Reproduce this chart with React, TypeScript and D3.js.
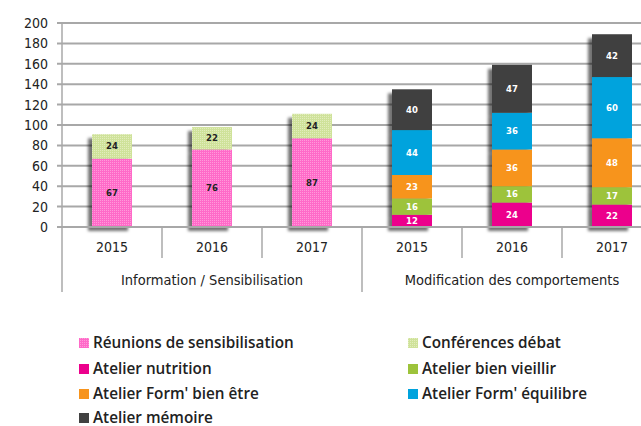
import React from "react";
import * as d3 from "d3";

const groups = ["Information / Sensibilisation", "Modification des comportements"];
const years = ["2015", "2016", "2017"];
const categories = [
  "Info-2015", "Info-2016", "Info-2017",
  "Modif-2015", "Modif-2016", "Modif-2017",
];
const seriesNames = [
  "Réunions de sensibilisation",
  "Conférences débat",
  "Atelier nutrition",
  "Atelier bien vieillir",
  "Atelier Form' bien être",
  "Atelier Form' équilibre",
  "Atelier mémoire",
];
const reunions = [67, 76, 87, 0, 0, 0];
const conferences = [24, 22, 24, 0, 0, 0];
const nutrition = [0, 0, 0, 12, 24, 22];
const bienVieillir = [0, 0, 0, 16, 16, 17];
const bienEtre = [0, 0, 0, 23, 36, 48];
const equilibre = [0, 0, 0, 44, 36, 60];
const memoire = [0, 0, 0, 40, 47, 42];
const yTicks = [0, 20, 40, 60, 80, 100, 120, 140, 160, 180, 200];

const seriesValues = [reunions, conferences, nutrition, bienVieillir, bienEtre, equilibre, memoire];
const colors = ["url(#patPink)", "url(#patGreen)", "#EC008C", "#9DC33B", "#F7941D", "#00A3DD", "#414141"];
const labelColors = ["#222", "#222", "#fff", "#fff", "#fff", "#fff", "#fff"];

const W = 641, H = 426;
const axisFont = "'DejaVu Sans Condensed', 'DejaVu Sans', sans-serif";

export default function App() {
  const y = d3.scaleLinear().domain([0, 200]).range([227, 23]);
  const x = d3.scaleBand<string>().domain(categories).range([62, 662]).paddingInner(0.6).paddingOuter(0.3);
  const step = x.step();

  const table = categories.map((c, i) => {
    const row: any = { cat: c };
    seriesNames.forEach((s, j) => (row[s] = seriesValues[j][i]));
    return row;
  });
  const stack = d3.stack<any>().keys(seriesNames)(table);

  const boundary = (i: number) => (x(categories[i]) as number) - step * 0.3;

  const legendRows = [
    [0, 1],
    [2, 3],
    [4, 5],
    [6],
  ];
  const legendY = [343, 369, 394, 418];

  return (
    <svg width={W} height={H} style={{ position: "absolute", left: 0, top: 0, background: "#fff" }}>
      <defs>
        <pattern id="patPink" width="2" height="2" patternUnits="userSpaceOnUse">
          <rect width="2" height="2" fill="#FF6AC8" />
          <rect width="1" height="1" fill="#FF9ADA" />
        </pattern>
        <pattern id="patGreen" width="2" height="2" patternUnits="userSpaceOnUse">
          <rect width="2" height="2" fill="#CFE29A" />
          <rect width="1" height="1" fill="#E2EDBD" />
        </pattern>
        <filter id="shadow" x="-30%" y="-30%" width="160%" height="160%">
          <feDropShadow dx="-4" dy="4" stdDeviation="1.5" floodColor="#000" floodOpacity="0.55" />
        </filter>
      </defs>

      {/* gridlines */}
      {yTicks.map((t) => (
        <g key={t}>
          <line x1={57} x2={W} y1={y(t)} y2={y(t)} stroke="#A8A8A8" strokeWidth={2} />
          <text x={48} y={y(t)} dy="0.35em" textAnchor="end" fontSize={14} fontFamily={axisFont} fill="#222">
            {t}
          </text>
        </g>
      ))}

      {/* vertical axis */}
      <line x1={62} x2={62} y1={23} y2={292} stroke="#A8A8A8" strokeWidth={1.5} />

      {/* bars */}
      {categories.map((c, i) => (
        <g key={c} filter="url(#shadow)">
          {stack.map((s, j) => {
            const d = s[i];
            if (d[1] - d[0] <= 0) return null;
            return (
              <rect key={j} x={x(c)} width={x.bandwidth()} y={y(d[1])} height={y(d[0]) - y(d[1])} fill={colors[j]} />
            );
          })}
        </g>
      ))}
      {categories.map((c, i) => (
        <g key={c + "l"}>
          {stack.map((s, j) => {
            const d = s[i];
            const v = d[1] - d[0];
            if (v <= 0) return null;
            return (
              <text
                key={j}
                x={(x(c) as number) + x.bandwidth() / 2}
                y={(y(d[0]) + y(d[1])) / 2}
                dy="0.35em"
                textAnchor="middle"
                fontSize={8.5}
                fontWeight="bold"
                fontFamily="'DejaVu Sans', sans-serif"
                fill={labelColors[j]}
              >
                {v}
              </text>
            );
          })}
        </g>
      ))}

      {/* x axis */}
      <line x1={62} x2={W} y1={227} y2={227} stroke="#A8A8A8" strokeWidth={2} />
      {categories.map((c, i) => (
        <g key={c + "x"}>
          {i > 0 && (
            <line
              x1={boundary(i)}
              x2={boundary(i)}
              y1={227}
              y2={i % 3 === 0 ? 292 : 258}
              stroke="#A8A8A8"
              strokeWidth={1.5}
            />
          )}
          <text x={(x(c) as number) + x.bandwidth() / 2} y={247} dy="0.35em" textAnchor="middle" fontSize={14} fontFamily={axisFont} fill="#222">
            {years[i % 3]}
          </text>
        </g>
      ))}
      {groups.map((g, gi) => (
        <text key={g} x={boundary(gi * 3) + 1.5 * step} y={280} dy="0.35em" textAnchor="middle" fontSize={14.5} fontFamily={axisFont} fill="#222">
          {g}
        </text>
      ))}

      {/* legend */}
      {legendRows.map((row, ri) =>
        row.map((si, ci) => {
          const lx = ci === 0 ? 79 : 408;
          const ly = legendY[ri];
          return (
            <g key={si}>
              <rect x={lx} y={ly - 5} width={10} height={10} fill={colors[si]} />
              <text x={lx + 14} y={ly} dy="0.35em" fontSize={15.3} fontWeight={600} fontFamily="'Open Sans', sans-serif" fill="#222">
                {seriesNames[si]}
              </text>
            </g>
          );
        })
      )}
    </svg>
  );
}
